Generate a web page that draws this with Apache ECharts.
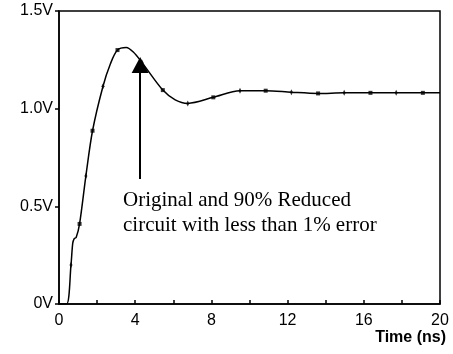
<!DOCTYPE html>
<html>
<head>
<meta charset="utf-8">
<script src="https://cdn.jsdelivr.net/npm/echarts@6/dist/echarts.min.js"></script>
<style>
  html, body { margin: 0; padding: 0; background: #fff; }
  #main { width: 453px; height: 354px; }
</style>
</head>
<body>
<div id="main"></div>
<script>
// response curve (time in ns, voltage in V)
var curveTime = [0, 0.4, 0.63, 0.72, 0.8, 0.9, 1.08, 1.41, 1.76, 2.31, 2.7, 3.07, 3.53, 3.9, 4.35, 5.45, 6.1, 6.76, 8.1, 9.5, 10.85, 12.2, 13.6, 14.97, 16.35, 17.7, 19.1, 20];
var curveVolt = [0, 0, 0.20, 0.31, 0.335, 0.34, 0.41, 0.655, 0.887, 1.115, 1.23, 1.30, 1.313, 1.29, 1.237, 1.095, 1.045, 1.027, 1.058, 1.092, 1.092, 1.084, 1.078, 1.081, 1.081, 1.081, 1.081, 1.081];

// sample points drawn as markers (two alternating kinds)
var squareTime = [1.08, 1.76, 3.07, 5.45, 8.1, 10.85, 13.6, 16.35, 19.1];
var squareVolt = [0.41, 0.887, 1.30, 1.095, 1.058, 1.092, 1.078, 1.081, 1.081];
var crossTime = [0.63, 1.41, 2.31, 4.35, 6.76, 9.5, 12.2, 14.97, 17.7];
var crossVolt = [0.20, 0.655, 1.115, 1.237, 1.027, 1.092, 1.084, 1.081, 1.081];

var yTicks = ['0V', '0.5V', '1.0V', '1.5V'];
var arrowFrom = [4.26, 0.64];
var arrowTo = [4.26, 1.224];

function pairs(xs, ys) {
  return xs.map(function (x, i) { return [x, ys[i]]; });
}

var chart = echarts.init(document.getElementById('main'));
chart.setOption({
  animation: false,
  grid: { left: 59, right: 13, top: 11, bottom: 50, show: true, borderColor: '#000', borderWidth: 1.5 },
  xAxis: {
    type: 'value', min: 0, max: 20, interval: 2,
    axisLine: { lineStyle: { color: '#000', width: 1.5 } },
    axisTick: { inside: true, length: 4, lineStyle: { color: '#000', width: 1.5 } },
    axisLabel: {
      color: '#000', fontSize: 16, fontFamily: 'Liberation Sans, Arial', margin: 9,
      formatter: function (v) { return v % 4 === 0 ? String(v) : ''; }
    },
    splitLine: { show: false }
  },
  yAxis: {
    type: 'value', min: 0, max: 1.5, interval: 0.5,
    axisLine: { show: true, lineStyle: { color: '#000', width: 1.5 } },
    axisTick: { show: true, length: 4, lineStyle: { color: '#000', width: 1.5 } },
    axisLabel: {
      color: '#000', fontSize: 16, fontFamily: 'Liberation Sans, Arial', margin: 6,
      formatter: function (v) { return yTicks[Math.round(v / 0.5)]; }
    },
    splitLine: { show: false }
  },
  graphic: [
    {
      type: 'text', right: 7, top: 330,
      style: { text: 'Time (ns)', fill: '#000', font: 'bold 16px "Liberation Sans", Arial', textAlign: 'right' }
    },
    {
      type: 'text', left: 123, top: 188,
      style: {
        text: 'Original and 90% Reduced\ncircuit with less than 1% error',
        fill: '#000', font: '21px "Liberation Serif", "Times New Roman"', lineHeight: 25
      }
    }
  ],
  series: [
    {
      type: 'line', data: pairs(curveTime, curveVolt), smooth: 0.3, showSymbol: false,
      lineStyle: { color: '#000', width: 1.5 },
      markLine: {
        silent: true, animation: false,
        symbol: ['none', 'triangle'], symbolSize: [17, 16],
        label: { show: false },
        lineStyle: { color: '#000', width: 2, type: 'solid' },
        data: [[{ coord: arrowFrom }, { coord: arrowTo }]]
      }
    },
    {
      type: 'scatter', data: pairs(squareTime, squareVolt), symbol: 'rect', symbolSize: 4,
      itemStyle: { color: '#000' }
    },
    {
      type: 'scatter', data: pairs(crossTime, crossVolt), symbol: 'diamond', symbolSize: [3, 6],
      itemStyle: { color: '#000' }
    }
  ]
});
</script>
</body>
</html>
